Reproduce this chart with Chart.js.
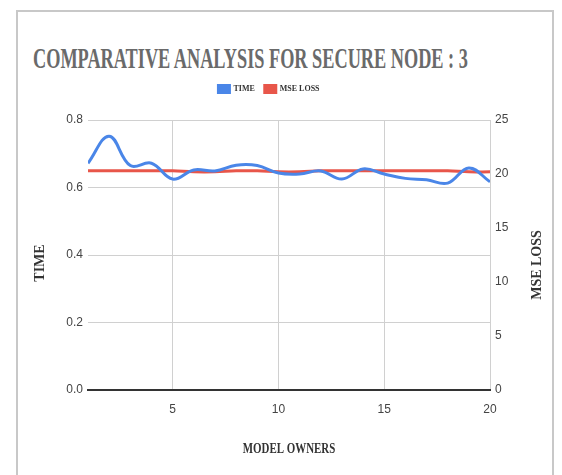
<!DOCTYPE html>
<html>
<head>
<meta charset="utf-8">
<script src="https://cdn.jsdelivr.net/npm/chart.js@4.4.0/dist/chart.umd.min.js"></script>
<style>
    html, body { margin: 0; padding: 0; background: #fff; }
    #wrap { position: relative; width: 562px; height: 475px; overflow: hidden; }
    #frame { position: absolute; left: 16px; top: 10px; width: 538px; height: 490px; border: 2px solid #c8c8c8; box-sizing: border-box; }
    #title { position: absolute; left: 33px; top: 44px; font: bold 29px "Liberation Serif", serif; line-height: 1; color: #6a6a6a; white-space: nowrap; transform-origin: 0 0; }
    canvas { position: absolute; left: 0; top: 0; }
</style>
</head>
<body>
<div id="wrap">
    <div id="frame"></div>
    <div id="title">COMPARATIVE ANALYSIS FOR SECURE NODE : 3</div>
    <canvas id="chart" width="562" height="475"></canvas>
</div>
<script>
const owners = [1, 2, 3, 4, 5, 6, 7, 8, 9, 10, 11, 12, 13, 14, 15, 16, 17, 18, 19, 20];
const timeValues = [0.672, 0.752, 0.665, 0.672, 0.625, 0.652, 0.649, 0.666, 0.665, 0.643,
                    0.640, 0.649, 0.625, 0.655, 0.640, 0.627, 0.623, 0.613, 0.658, 0.617];
const mseLoss = [20.3, 20.3, 20.3, 20.3, 20.3, 20.2, 20.2, 20.3, 20.3, 20.2,
                 20.2, 20.3, 20.3, 20.3, 20.3, 20.3, 20.3, 20.3, 20.2, 20.2];
const seriesNames = ['TIME', 'MSE LOSS'];
const xTitle = 'MODEL OWNERS';
const yTitle = 'TIME';
const y1Title = 'MSE LOSS';
const xTickStep = 5;
const timeTickStep = 0.2;
const lossTickStep = 5;

// squeeze the title so it spans the same width as the reference
const titleEl = document.getElementById('title');
titleEl.style.transform = 'scaleX(' + (435 / titleEl.offsetWidth) + ')';

// legend sits higher than Chart.js would put it, so pad its box
const legendSpacer = {
    id: 'legendSpacer',
    beforeInit(chart) {
        const fit = chart.legend.fit;
        chart.legend.fit = function () {
            fit.bind(chart.legend)();
            this.height = 45;
        };
    }
};

// axis titles drawn by hand: the right one reads bottom-to-top like the left one
const axisTitles = {
    id: 'axisTitles',
    afterDraw(chart) {
        const { ctx, chartArea: a } = chart;
        const midY = (a.top + a.bottom) / 2;
        ctx.save();
        ctx.fillStyle = '#333';
        ctx.font = 'bold 14px "Liberation Serif", serif';
        ctx.textAlign = 'center';
        ctx.textBaseline = 'middle';

        ctx.save();
        ctx.translate((a.left + a.right) / 2, 449);
        ctx.scale(0.78, 1);
        ctx.fillText(xTitle, 0, 0);
        ctx.restore();

        ctx.save();
        ctx.translate(40, midY + 8);
        ctx.rotate(-Math.PI / 2);
        ctx.fillText(yTitle, 0, 0);
        ctx.restore();

        ctx.save();
        ctx.translate(537, midY + 10);
        ctx.rotate(-Math.PI / 2);
        ctx.fillText(y1Title, 0, 0);
        ctx.restore();

        ctx.restore();
    }
};

const tickFont = { family: '"Liberation Sans", Arial, sans-serif', size: 12 };

new Chart(document.getElementById('chart'), {
    type: 'line',
    data: {
        datasets: [{
            label: seriesNames[0],
            data: owners.map((o, i) => ({ x: o, y: timeValues[i] })),
            borderColor: '#4a86e8',
            backgroundColor: '#4a86e8',
            borderWidth: 3,
            tension: 0.4,
            pointRadius: 0,
            yAxisID: 'y'
        }, {
            label: seriesNames[1],
            data: owners.map((o, i) => ({ x: o, y: mseLoss[i] })),
            borderColor: '#e8564a',
            backgroundColor: '#e8564a',
            borderWidth: 3,
            tension: 0.4,
            pointRadius: 0,
            yAxisID: 'y1'
        }]
    },
    options: {
        responsive: false,
        animation: false,
        layout: { padding: { top: 75, right: 24, left: 0, bottom: 0 } },
        plugins: {
            title: { display: false },
            tooltip: { enabled: false },
            legend: {
                position: 'top',
                labels: {
                    boxWidth: 11,
                    boxHeight: 7,
                    padding: 10,
                    color: '#333',
                    font: { family: '"Liberation Serif", serif', size: 8, weight: 'bold' }
                }
            }
        },
        scales: {
            x: {
                type: 'linear',
                min: 1,
                max: 20,
                afterBuildTicks: s => { s.ticks = s.ticks.filter(t => t.value % xTickStep === 0); },
                afterFit: s => { s.height = 85; },
                ticks: { stepSize: xTickStep, padding: 12, color: '#444', font: tickFont },
                grid: { color: '#d0d0d0', lineWidth: 1, drawTicks: false },
                border: { display: true, color: '#333', width: 2 }
            },
            y: {
                position: 'left',
                min: 0,
                max: 0.8,
                afterFit: s => { s.width = 88; },
                ticks: { stepSize: timeTickStep, padding: 5, color: '#444', font: tickFont, callback: v => v.toFixed(1) },
                grid: { color: '#d0d0d0', lineWidth: 1, drawTicks: false },
                border: { display: false }
            },
            y1: {
                position: 'right',
                min: 0,
                max: 25,
                afterFit: s => { s.width = 48; },
                ticks: { stepSize: lossTickStep, padding: 5, color: '#444', font: tickFont },
                grid: { display: false, drawTicks: false },
                border: { display: false }
            }
        }
    },
    plugins: [legendSpacer, axisTitles]
});
</script>
</body>
</html>
